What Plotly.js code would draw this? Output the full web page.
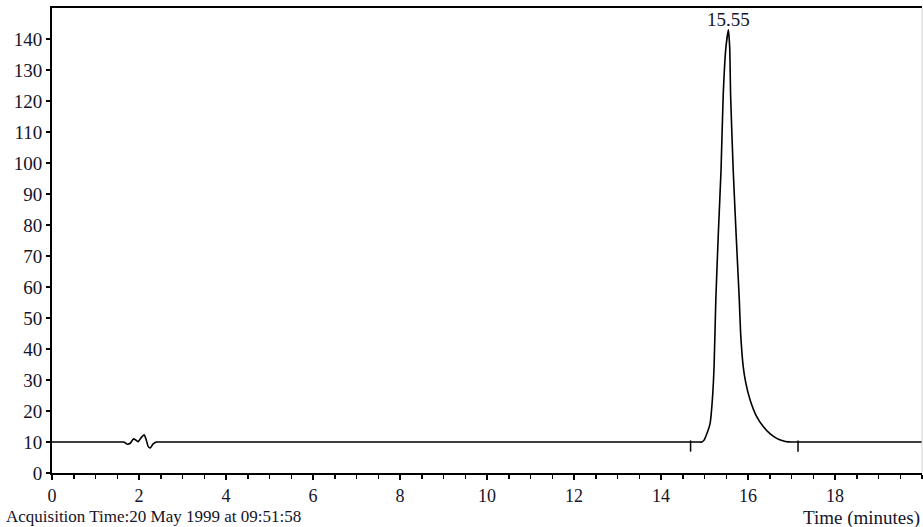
<!DOCTYPE html>
<html>
<head>
<meta charset="utf-8">
<script src="https://cdn.plot.ly/plotly-3.0.1.min.js"></script>
<style>
  html, body { margin: 0; padding: 0; background: #fff; }
  #chart { width: 923px; height: 527px; }
</style>
</head>
<body>
<div id="chart"></div>
<script>
// Detector trace: retention time (minutes) vs. response
const timeMin = [
  0, 1.60, 1.65, 1.73, 1.80, 1.87, 1.93, 1.98, 2.05, 2.12, 2.17, 2.21, 2.26, 2.32, 2.40, 2.45,
  14.85, 14.94, 14.99, 15.06, 15.13, 15.18, 15.22, 15.26, 15.32, 15.38, 15.43, 15.49, 15.55,
  15.58, 15.60, 15.66, 15.73, 15.80, 15.83, 15.89, 15.95, 16.05, 16.20, 16.35, 16.51, 16.67,
  16.80, 16.92, 17.00, 20
];
const response = [
  10, 10, 10, 9.3, 9.6, 11.0, 10.6, 10.1, 11.4, 12.3, 10.5, 8.6, 8.1, 9.3, 10, 10,
  10, 10, 10.6, 12.9, 16.1, 23.5, 34.3, 55.8, 78, 97.7, 121.9, 137, 143,
  137, 121.9, 97.7, 76, 55.8, 45.2, 34.3, 29.0, 23.5, 18.2, 15.0, 12.6, 11.1,
  10.4, 10.05, 10, 10
];

// Integration start/end marks on the baseline
const integTime = [14.68, 17.15];
const integLevel = [8.7, 8.7];

// Apex retention time label
const peakTime = 15.55;
const peakHeight = 143;

const yTicks = [0, 10, 20, 30, 40, 50, 60, 70, 80, 90, 100, 110, 120, 130, 140];
const xTicks = [0, 2, 4, 6, 8, 10, 12, 14, 16, 18];

const serif = "Liberation Serif, Times New Roman, serif";
const ink = "#14142a";

const traces = [
  {
    x: timeMin, y: response, type: "scatter", mode: "lines",
    line: { color: "#000", width: 1.6, shape: "spline", smoothing: 0.5 },
    hoverinfo: "skip"
  },
  {
    x: integTime, y: integLevel, type: "scatter", mode: "markers",
    marker: { symbol: "line-ns", size: 8, line: { color: "#000", width: 1.5 } },
    hoverinfo: "skip"
  }
];

const layout = {
  width: 923, height: 527,
  margin: { l: 52, r: 1, t: 8, b: 54 },
  paper_bgcolor: "#fff", plot_bgcolor: "#fff",
  showlegend: false,
  font: { family: serif, size: 19, color: ink },
  xaxis: {
    range: [0, 20], tickvals: xTicks, ticktext: xTicks.map(String),
    showgrid: false, zeroline: false,
    showline: true, linecolor: "#000", linewidth: 2, mirror: true,
    ticks: "outside", ticklen: 5, tickwidth: 1.5, tickcolor: "#000",
    minor: { dtick: 0.5, ticks: "outside", ticklen: 4, tickwidth: 1.5, tickcolor: "#000", showgrid: false },
    tickfont: { family: serif, size: 18, color: ink }
  },
  yaxis: {
    range: [0, 150], tickvals: yTicks, ticktext: yTicks.map(String),
    showgrid: false, zeroline: false,
    showline: true, linecolor: "#000", linewidth: 2,
    ticks: "outside", ticklen: 4, tickwidth: 1.5, tickcolor: "#000",
    tickfont: { family: serif, size: 19, color: ink }
  },
  shapes: [
    { type: "line", xref: "paper", yref: "paper", x0: 1, x1: 1, y0: 0, y1: 1,
      line: { color: "#d0d0d0", width: 1 } }
  ],
  annotations: [
    { x: peakTime, y: peakHeight, xref: "x", yref: "y", text: peakTime.toFixed(2),
      showarrow: false, yanchor: "bottom", yshift: -2,
      font: { family: serif, size: 19, color: ink } },
    { x: 0, y: 0, xref: "paper", yref: "paper", xanchor: "left", yanchor: "top",
      xshift: -48, yshift: -32, text: "Acquisition Time:20 May 1999 at 09:51:58",
      showarrow: false, font: { family: serif, size: 17, color: ink } },
    { x: 1, y: 0, xref: "paper", yref: "paper", xanchor: "right", yanchor: "top",
      xshift: 0, yshift: -32, text: "Time (minutes)",
      showarrow: false, font: { family: serif, size: 19, color: ink } }
  ]
};

Plotly.newPlot("chart", traces, layout, { displayModeBar: false, staticPlot: true });
</script>
</body>
</html>
